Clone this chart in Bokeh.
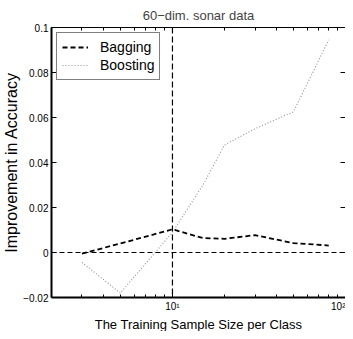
from bokeh.plotting import figure
from bokeh.models import (Range1d, LinearAxis, FixedTicker, LogScale, Title,
                          Span, Legend, LegendItem, ColumnDataSource, CustomLabelingPolicy)
from bokeh.embed import file_html
from bokeh.resources import INLINE

# ---- data ----
sizes = [3, 5, 10, 15, 20, 30, 50, 80]
bagging = [-0.0005, 0.0040, 0.0103, 0.0064, 0.0061, 0.0077, 0.0042, 0.0031]
boosting = [-0.0044, -0.0180, 0.0090, 0.0300, 0.0478, 0.0550, 0.0625, 0.0945]
y_ticks = [-0.02, 0, 0.02, 0.04, 0.06, 0.08, 0.1]
y_tick_labels = ["\u22120.02", "0", "0.02", "0.04", "0.06", "0.08", "0.1"]
x_ticks = [10, 100]
x_minor_ticks = [2, 3, 4, 5, 6, 7, 8, 9, 20, 30, 40, 50, 60, 70, 80, 90]
x_tick_labels = ["10\u00b9", "10\u00b2"]
title_text = "60\u2212dim. sonar data"
x_label = "The Training Sample Size per Class"
y_label = "Improvement in Accuracy"

FONT = "Liberation Sans"

p = figure(width=345, height=331, x_axis_type=None, y_axis_type=None,
           x_range=Range1d(2, 100), y_range=Range1d(-0.02, 0.1),
           output_backend="svg", toolbar_location=None,
           min_border_left=0, min_border_right=0, min_border_top=0, min_border_bottom=0)
p.x_scale = LogScale()
p.background_fill_color = "white"
p.border_fill_color = "white"
p.grid.visible = False
p.outline_line_color = None

# title
p.title.text = title_text
p.title.align = "center"
p.title.text_font = FONT
p.title.text_font_size = "13px"
p.title.text_font_style = "normal"
p.title.standoff = 10

no_labels = CustomLabelingPolicy(code="return []")

def style_axis(ax, labels=True):
    ax.major_tick_in = 5
    ax.major_tick_out = 0
    ax.minor_tick_in = 3
    ax.minor_tick_out = 0
    ax.axis_line_color = "black"
    ax.major_tick_line_color = "black"
    ax.minor_tick_line_color = "black"
    ax.major_label_text_font = FONT
    ax.major_label_text_font_size = "10px"
    ax.major_label_text_color = "black"
    ax.axis_label_text_font = FONT
    ax.axis_label_text_font_style = "normal"
    ax.axis_label_text_color = "black"
    if not labels:
        ax.major_label_standoff = 0
        ax.axis_label_standoff = 0
        ax.major_label_policy = no_labels

# bottom x axis (log-scaled through the plot's x_scale)
xb = LinearAxis(ticker=FixedTicker(ticks=x_ticks, minor_ticks=x_minor_ticks))
style_axis(xb)
xb.major_label_overrides = dict(zip(x_ticks, x_tick_labels))
xb.major_label_standoff = 3
xb.axis_line_width = 2
p.add_layout(xb, "below")

# x-axis label placed under the tick labels
p.add_layout(Title(text=x_label, align="center", text_font=FONT,
                   text_font_size="13px", text_font_style="normal",
                   text_color="black", standoff=0), "below")

# top x axis (ticks only)
xt = LinearAxis(ticker=FixedTicker(ticks=x_ticks, minor_ticks=x_minor_ticks))
style_axis(xt, labels=False)
xt.major_label_overrides = {t: "" for t in x_ticks}
p.add_layout(xt, "above")

# left y axis
yl = LinearAxis(ticker=FixedTicker(ticks=y_ticks, minor_ticks=[]))
style_axis(yl)
yl.major_label_overrides = dict(zip(y_ticks, y_tick_labels))
yl.axis_label = y_label
yl.axis_label_text_font_size = "16px"
yl.axis_label_standoff = 0
yl.major_label_standoff = 3
yl.axis_line_width = 2
p.add_layout(yl, "left")

# right y axis (ticks only)
yr = LinearAxis(ticker=FixedTicker(ticks=y_ticks, minor_ticks=[]))
style_axis(yr, labels=False)
yr.major_label_overrides = {t: "" for t in y_ticks}
p.add_layout(yr, "right")

# reference lines
p.add_layout(Span(location=0, dimension="width", line_color="black",
                  line_width=1, line_dash="5 3"))
p.add_layout(Span(location=10, dimension="height", line_color="black",
                  line_width=1.2, line_dash="6 3"))

src = ColumnDataSource(dict(x=sizes, bag=bagging, boost=boosting))
r_bag = p.line("x", "bag", source=src, line_color="black", line_width=1.8,
               line_dash="5 3")
r_boost = p.line("x", "boost", source=src, line_color="#8f8f8f", line_width=1.1,
                 line_dash="1 2")

legend = Legend(items=[LegendItem(label="Bagging", renderers=[r_bag]),
                       LegendItem(label="Boosting", renderers=[r_boost])],
                location="top_left")
legend.margin = 5
legend.padding = 5
legend.spacing = 0
legend.glyph_width = 26
legend.glyph_height = 18
legend.label_height = 18
legend.label_standoff = 12
legend.label_text_font = FONT
legend.label_text_font_size = "14px"
legend.label_text_color = "black"
legend.border_line_color = "black"
legend.border_line_width = 1.5
legend.background_fill_color = "white"
legend.background_fill_alpha = 1
p.add_layout(legend, "center")

open("out.html", "w").write(file_html(p, INLINE))
